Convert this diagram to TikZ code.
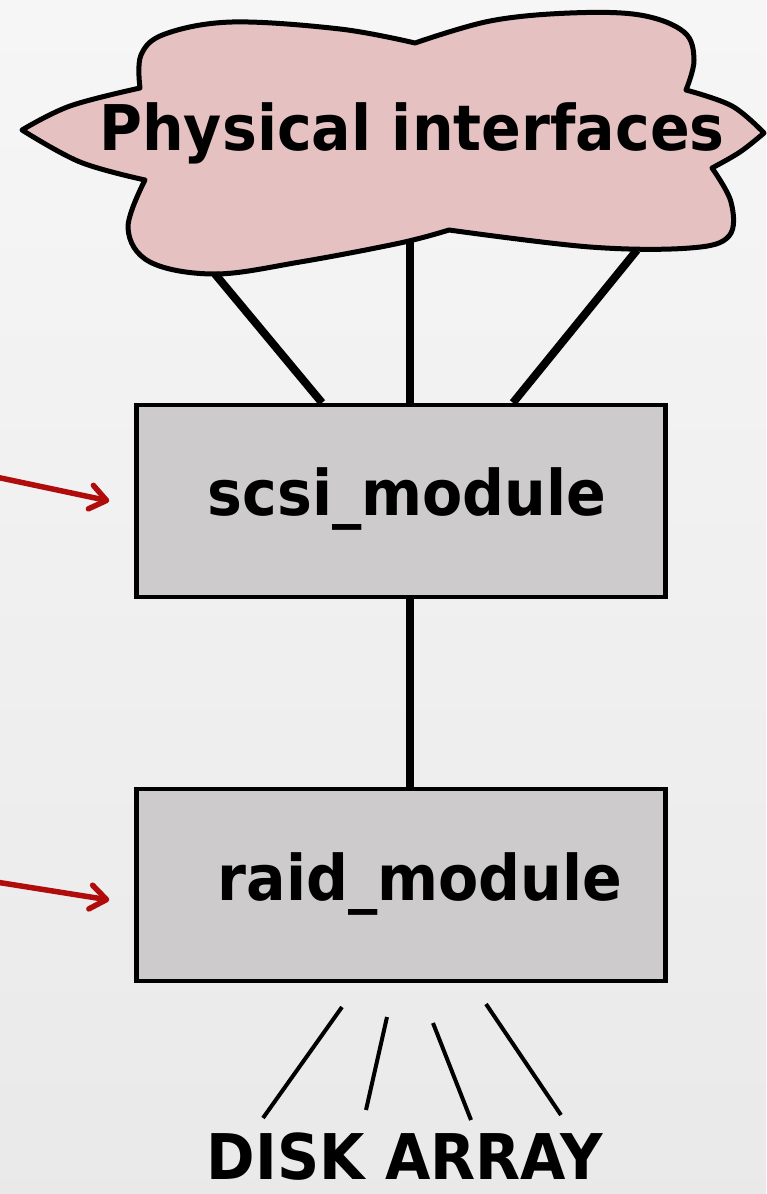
\documentclass[tikz,border=0pt]{standalone}
\usepackage{fontspec}
\newfontfamily\diagfont{DejaVu Sans}[FakeStretch=0.93]
\usetikzlibrary{arrows.meta}
\definecolor{cloudpink}{HTML}{E6C1C1}
\definecolor{boxgray}{HTML}{CDCBCC}
\definecolor{ptrred}{HTML}{B00C0C}
\begin{document}
\begin{tikzpicture}[x=1pt, y=-1pt,
    every node/.style={font=\diagfont\bfseries, inner sep=0pt},
    box/.style={rectangle, draw=black, fill=boxgray, line width=4.5pt, minimum width=529pt, minimum height=192pt},
    lbl/.style={font=\diagfont\bfseries\fontsize{63}{70}\selectfont},
    link/.style={draw=black, line width=8pt},
    thin/.style={draw=black, line width=4pt},
    ptr/.style={draw=ptrred, line width=5.5pt, line cap=round, -{Straight Barb[length=16pt, width=24pt, line cap=round, line join=round]}}
]
% page and background
\useasboundingbox (0,0) rectangle (766,1194);
\shade[top color=gray!7, bottom color=gray!17] (0,0) rectangle (766,1194);

% cloud
\draw[fill=cloudpink, line width=5pt, line join=round]
    (22,130) -- plot[smooth, tension=0.6] coordinates {(22,130) (70,106) (140,88)}
    -- plot[smooth, tension=0.6] coordinates {(140,88) (141,55) (165,34) (232,22) (340,29) (415,43)}
    -- plot[smooth, tension=0.6] coordinates {(415,43) (490,21) (570,13) (640,15) (684,32) (694,60) (686,90)}
    -- plot[smooth, tension=0.6] coordinates {(686,90) (732,106) (764,133)}
    -- plot[smooth, tension=0.6] coordinates {(764,133) (740,152) (712,168)}
    -- plot[smooth, tension=0.6] coordinates {(712,168) (731,202) (729,236) (690,248) (590,247) (449,230)}
    -- plot[smooth, tension=0.6] coordinates {(449,230) (400,243) (300,262) (215,274) (150,262) (128,228) (145,180)}
    -- plot[smooth, tension=0.6] coordinates {(145,180) (80,162) (22,130)} -- cycle;
\node[lbl, anchor=base] (phys) at (412,150) {Physical interfaces};
\coordinate (c1) at (215,274);
\coordinate (c2) at (410,241);
\coordinate (c3) at (637,250);

% modules
\node[box] (scsi) at (401,501) {};
\node[lbl] (scsitxt) at (407,499) {scsi\_module};
\node[box] (raid) at (401,885) {};
\node[lbl] (raidtxt) at (420,884) {raid\_module};

\draw[link] (c1) -- ([xshift=-79pt]scsi.north);
\draw[link] (c2) -- (c2 |- scsi.north);
\draw[link] (c3) -- ([xshift=112pt]scsi.north);
\draw[link] ([xshift=9pt]scsi.south) -- ([xshift=9pt]raid.north);

% pointers from the left
\coordinate (src1) at (-4,477);
\coordinate (src2) at (-4,882);
\draw[ptr] (src1) -- ([xshift=-25pt]scsi.west);
\draw[ptr] (src2) -- ([xshift=-25pt, yshift=-15pt]raid.west);

% disk array fan
\node[lbl, anchor=base, font=\diagfont\bfseries\fontsize{63}{70}\selectfont] (disk) at (405,1179) {DISK ARRAY};
\coordinate (d1a) at (342,1007); \coordinate (d1b) at (263,1118);
\coordinate (d2a) at (387,1017); \coordinate (d2b) at (366,1110);
\coordinate (d3a) at (433,1023); \coordinate (d3b) at (471,1120);
\coordinate (d4a) at (486,1004); \coordinate (d4b) at (561,1115);
\draw[thin] (d1a) -- (d1b);
\draw[thin] (d2a) -- (d2b);
\draw[thin] (d3a) -- (d3b);
\draw[thin] (d4a) -- (d4b);
\end{tikzpicture}
\end{document}
